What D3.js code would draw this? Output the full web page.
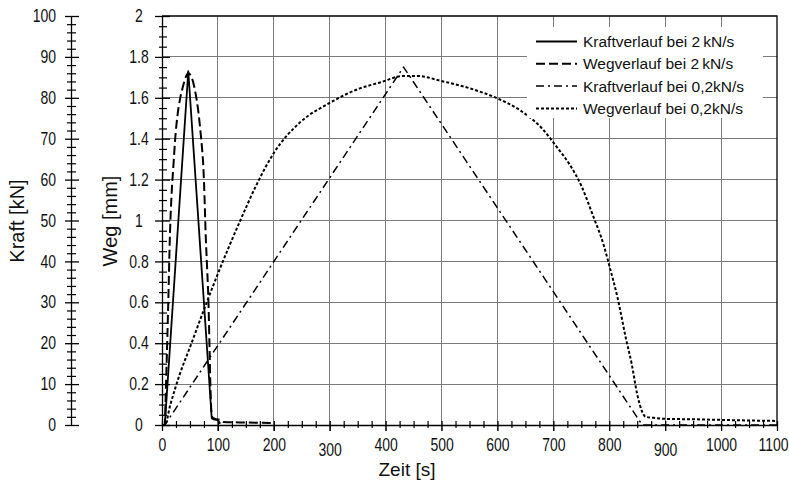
<!DOCTYPE html>
<html>
<head>
<meta charset="utf-8">
<script src="https://cdn.jsdelivr.net/npm/d3@7"></script>
<style>
  html, body { margin: 0; padding: 0; background: #fff; }
  svg { display: block; }
  .tick text { font-family: "Liberation Sans", Arial, sans-serif; font-size: 17.5px; fill: #111; }
  .title { font-family: "Liberation Sans", Arial, sans-serif; fill: #111; }
  .legend text { font-family: "Liberation Sans", Arial, sans-serif; font-size: 15.5px; fill: #111; }
</style>
</head>
<body>
<svg id="chart" width="789" height="489"></svg>
<script>
// Time axis ticks (s)
const timeTicks = [0, 100, 200, 300, 400, 500, 600, 700, 800, 900, 1000, 1100];
// Displacement axis ticks (mm)
const wegTicks = [0, 0.2, 0.4, 0.6, 0.8, 1, 1.2, 1.4, 1.6, 1.8, 2];
const wegTickLabels = ["0", "0.2", "0.4", "0.6", "0.8", "1", "1.2", "1.4", "1.6", "1.8", "2"];
// Force axis ticks (kN)
const kraftTicks = [0, 10, 20, 30, 40, 50, 60, 70, 80, 90, 100];

// Force at 2 kN/s: time (s) and force (kN)
const kraft2Time = [0, 5, 47, 89, 92, 100, 104];
const kraft2Value = [0, 0, 86.5, 1.6, 1.4, 1.2, 0.3];

// Displacement at 2 kN/s: time (s) and displacement (mm)
const weg2Time = [0, 5, 6, 7.2, 9.5, 11.3, 14.3, 17, 20.2, 24.5, 28, 32, 37, 41, 47, 53, 58, 62, 66, 69, 72, 74, 76, 78, 80.5, 83, 85, 86.5, 88, 89.5, 95, 105, 110, 150, 200];
const weg2Value = [0, 0, 0.08, 0.2, 0.42, 0.61, 0.94, 1.12, 1.26, 1.43, 1.52, 1.59, 1.65, 1.69, 1.72, 1.70, 1.65, 1.59, 1.51, 1.43, 1.34, 1.26, 1.12, 0.94, 0.78, 0.61, 0.38, 0.2, 0.08, 0.04, 0.03, 0.025, 0.015, 0.012, 0.01];

// Force at 0.2 kN/s: time (s) and force (kN)
const kraft02Time = [0, 5, 432, 859, 1100];
const kraft02Value = [0, 0, 87.5, 0, 0];

// Displacement at 0.2 kN/s: time (s) and displacement (mm)
const weg02Time = [0, 5, 15, 32, 50, 80, 100, 140, 170, 200, 247, 300, 354, 390, 432, 455, 503, 551, 599, 640, 682, 706, 730, 750, 770, 790, 800, 815, 830, 840, 850, 858, 865, 880, 900, 950, 1000, 1050, 1100];
const weg02Value = [0, 0, 0.1, 0.25, 0.38, 0.6, 0.74, 1.0, 1.18, 1.33, 1.48, 1.575, 1.646, 1.675, 1.707, 1.707, 1.68, 1.646, 1.598, 1.54, 1.443, 1.36, 1.27, 1.17, 1.03, 0.88, 0.78, 0.62, 0.42, 0.3, 0.15, 0.07, 0.04, 0.035, 0.03, 0.028, 0.025, 0.022, 0.02];

const legendLabels = ["Kraftverlauf bei 2\u2009kN/s", "Wegverlauf bei 2\u2009kN/s", "Kraftverlauf bei 0,2kN/s", "Wegverlauf bei 0,2kN/s"];

const svg = d3.select("#chart");
const plotLeft = 162, plotRight = 777, plotTop = 16, plotBottom = 425;
// Tick labels are set in a condensed face
const narrow = 0.8;

const x = d3.scaleLinear().domain([0, 1100]).range([plotLeft, plotRight]);
const yWeg = d3.scaleLinear().domain([0, 2]).range([plotBottom, plotTop]);
const yKraft = d3.scaleLinear().domain([0, 100]).range([plotBottom, plotTop]);

const gridColor = "#7a7a7a";

// Grid
const grid = svg.append("g");
grid.selectAll("line.v").data(timeTicks.slice(1, -1)).join("line")
  .attr("x1", d => x(d)).attr("x2", d => x(d))
  .attr("y1", plotTop).attr("y2", plotBottom + 6)
  .attr("stroke", gridColor).attr("stroke-width", 1).attr("shape-rendering", "crispEdges");
grid.selectAll("line.h").data(wegTicks.slice(1, -1)).join("line")
  .attr("x1", plotLeft).attr("x2", plotRight)
  .attr("y1", d => yWeg(d)).attr("y2", d => yWeg(d))
  .attr("stroke", gridColor).attr("stroke-width", 1).attr("shape-rendering", "crispEdges");

// Frame (top and right)
svg.append("path")
  .attr("d", `M${plotLeft},${plotTop}H${plotRight}V${plotBottom}`)
  .attr("fill", "none").attr("stroke", "#000").attr("stroke-width", 1.3);

// Helper: make ticks cross the axis line
function crossTicks(g, outer, inner) {
  g.selectAll(".tick line").attr("x1", inner).attr("x2", -outer);
}

// Force axis (far left)
const kraftMinor = d3.range(0, 101, 2).filter(v => v % 10 !== 0);
const kAxis = svg.append("g").attr("transform", `translate(71,0)`);
kAxis.append("g").call(d3.axisLeft(yKraft).tickValues(kraftMinor).tickSize(0).tickFormat(""))
  .call(g => { g.select(".domain").remove(); crossTicks(g, 4, 5); })
  .selectAll(".tick line").attr("stroke", "#000").attr("stroke-width", 1.2);
kAxis.append("g").call(d3.axisLeft(yKraft).tickValues(kraftTicks).tickSize(0).tickFormat(d3.format("d")))
  .call(g => {
    g.select(".domain").attr("stroke-width", 1.3);
    crossTicks(g, 6, 8);
    g.selectAll(".tick text").attr("x", -15 / narrow).attr("transform", `scale(${narrow},1)`);
  })
  .selectAll(".tick line").attr("stroke", "#000").attr("stroke-width", 1.3);

// Displacement axis
const wegMinor = d3.range(0, 41).map(i => i * 0.05).filter((v, i) => i % 4 !== 0);
const wAxis = svg.append("g").attr("transform", `translate(${plotLeft},0)`);
wAxis.append("g").call(d3.axisLeft(yWeg).tickValues(wegMinor).tickSize(0).tickFormat(""))
  .call(g => { g.select(".domain").remove(); crossTicks(g, 3, 5); })
  .selectAll(".tick line").attr("stroke", "#000").attr("stroke-width", 1.2);
wAxis.append("g").call(d3.axisLeft(yWeg).tickValues(wegTicks).tickSize(0).tickFormat((d, i) => wegTickLabels[i]))
  .call(g => {
    g.select(".domain").attr("stroke-width", 1.3);
    crossTicks(g, 7, 8);
    g.selectAll(".tick text").attr("text-anchor", "middle").attr("x", -23 / narrow)
      .attr("transform", `scale(${narrow},1)`);
  })
  .selectAll(".tick line").attr("stroke", "#000").attr("stroke-width", 1.3);

// Time axis
const timeMinor = d3.range(0, 1101, 25).filter(v => v % 100 !== 0);
const tAxis = svg.append("g").attr("transform", `translate(0,${plotBottom})`);
tAxis.append("g").call(d3.axisBottom(x).tickValues(timeMinor).tickSize(0).tickFormat(""))
  .call(g => { g.select(".domain").remove(); g.selectAll(".tick line").attr("y1", -4).attr("y2", 3); })
  .selectAll(".tick line").attr("stroke", "#000").attr("stroke-width", 1.2);
tAxis.append("g").call(d3.axisBottom(x).tickValues(timeTicks).tickSize(0).tickPadding(14).tickFormat(d3.format("d")))
  .call(g => {
    g.select(".domain").attr("stroke-width", 1.3);
    g.selectAll(".tick line").attr("y1", -4).attr("y2", 6);
    g.selectAll(".tick text").attr("transform", `scale(${narrow},1)`)
      .attr("dy", d => (d === 300 || d === 900) ? "1.0em" : "0.71em");
    // last label sits flush with the right edge
    g.selectAll(".tick text").filter(d => d === 1100)
      .attr("text-anchor", "end").attr("x", 11 / narrow);
  })
  .selectAll(".tick line").attr("stroke", "#000").attr("stroke-width", 1.3);

// Axis titles
svg.append("text").attr("class", "title").attr("font-size", 20)
  .attr("transform", "translate(24,221) rotate(-90)").attr("text-anchor", "middle").text("Kraft [kN]");
svg.append("text").attr("class", "title").attr("font-size", 20)
  .attr("transform", "translate(117,221) rotate(-90)").attr("text-anchor", "middle").text("Weg [mm]");
svg.append("text").attr("class", "title").attr("font-size", 19)
  .attr("x", 407).attr("y", 476).attr("text-anchor", "middle").text("Zeit [s]");

// Curves
const series = [
  { t: kraft2Time, v: kraft2Value, y: yKraft, dash: null, w: 1.8, curve: d3.curveLinear },
  { t: weg2Time, v: weg2Value, y: yWeg, dash: "9,4", w: 2, curve: d3.curveMonotoneX },
  { t: kraft02Time, v: kraft02Value, y: yKraft, dash: "8,4,2,4", w: 1.5, curve: d3.curveLinear },
  { t: weg02Time, v: weg02Value, y: yWeg, dash: "3,2", w: 2, curve: d3.curveMonotoneX }
];

const plot = svg.append("g");
series.forEach(s => {
  const pts = s.t.map((t, i) => [t, s.v[i]]);
  const line = d3.line().x(d => x(d[0])).y(d => s.y(d[1])).curve(s.curve);
  plot.append("path").datum(pts)
    .attr("d", line)
    .attr("fill", "none").attr("stroke", "#000")
    .attr("stroke-width", s.w)
    .attr("stroke-dasharray", s.dash)
    .attr("stroke-linejoin", "round");
});

// Legend
const legend = svg.append("g").attr("class", "legend");
legend.append("rect").attr("x", 527).attr("y", 27).attr("width", 236).attr("height", 91).attr("fill", "#fff");
legendLabels.forEach((lab, i) => {
  const yy = 41.5 + i * 22.3;
  legend.append("line").attr("x1", 536).attr("x2", 577).attr("y1", yy).attr("y2", yy)
    .attr("stroke", "#000").attr("stroke-width", series[i].w)
    .attr("stroke-dasharray", series[i].dash);
  legend.append("text").attr("x", 583).attr("y", yy + 5.5).text(lab);
});
</script>
</body>
</html>
